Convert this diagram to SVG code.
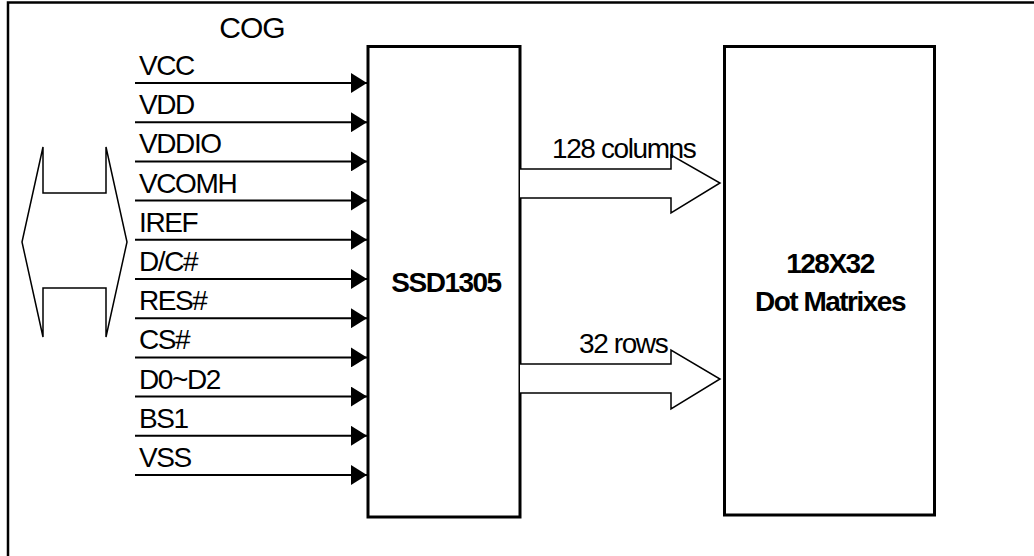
<svg xmlns="http://www.w3.org/2000/svg" width="1034" height="556" viewBox="0 0 1034 556">
<style>
.lbl{font-family:"Liberation Sans",Arial,sans-serif;font-size:28px;letter-spacing:-1.4px;fill:#000}
.bold{font-family:"Liberation Sans",Arial,sans-serif;font-size:28px;font-weight:bold;letter-spacing:-1.5px;fill:#000}
.box{fill:#fff;stroke:#000;stroke-width:3}
.sig{stroke:#000;stroke-width:2;fill:none}
.bus{fill:#fff;stroke:#000;stroke-width:1.5;stroke-linejoin:miter}
</style>
<defs>
<marker id="ah" markerUnits="userSpaceOnUse" markerWidth="16" markerHeight="20" refX="16" refY="10" orient="auto" viewBox="0 0 16 20">
<path d="M0,0 L16,10 L0,20 Z" fill="#000"/>
</marker>
</defs>
<rect width="1034" height="556" fill="#fff"/>
<path d="M8,556 V2.5 H1034" fill="none" stroke="#000" stroke-width="2.5"/>
<text class="lbl" x="252" y="38" text-anchor="middle" style="font-size:30px;letter-spacing:-1px">COG</text>
<g id="interface">
<polygon points="43,193 43,147 22,242 43,337 43,288 106,288 106,337 127,242 106,147 106,193" fill="#fff" stroke="#000" stroke-width="1.5"/>
</g>
<g id="ssd1305">
<rect class="box" x="368" y="46.5" width="152" height="470.5"/>
<text class="bold" x="446" y="292" text-anchor="middle">SSD1305</text>
</g>
<g id="matrix">
<rect class="box" x="724.5" y="46.5" width="210" height="468.5"/>
<text class="bold" x="830" y="273" text-anchor="middle">128X32</text>
<text class="bold" x="830" y="311" text-anchor="middle">Dot Matrixes</text>
</g>
<g id="connectors">
<line class="sig" x1="135" y1="83" x2="367" y2="83" marker-end="url(#ah)"/>
<line class="sig" x1="135" y1="122.2" x2="367" y2="122.2" marker-end="url(#ah)"/>
<line class="sig" x1="135" y1="161.4" x2="367" y2="161.4" marker-end="url(#ah)"/>
<line class="sig" x1="135" y1="200.6" x2="367" y2="200.6" marker-end="url(#ah)"/>
<line class="sig" x1="135" y1="239.8" x2="367" y2="239.8" marker-end="url(#ah)"/>
<line class="sig" x1="135" y1="279" x2="367" y2="279" marker-end="url(#ah)"/>
<line class="sig" x1="135" y1="318.2" x2="367" y2="318.2" marker-end="url(#ah)"/>
<line class="sig" x1="135" y1="357.4" x2="367" y2="357.4" marker-end="url(#ah)"/>
<line class="sig" x1="135" y1="396.6" x2="367" y2="396.6" marker-end="url(#ah)"/>
<line class="sig" x1="135" y1="435.8" x2="367" y2="435.8" marker-end="url(#ah)"/>
<line class="sig" x1="135" y1="475" x2="367" y2="475" marker-end="url(#ah)"/>
<path class="bus" d="M520,169 H671 V155 L720,183 L671,213 V198 H520"/>
<path class="bus" d="M520,364 H671 V350 L720,379 L671,409 V393 H520"/>
</g>
<g id="labels">
<text class="lbl" x="139" y="75">VCC</text>
<text class="lbl" x="139" y="114.2">VDD</text>
<text class="lbl" x="139" y="153.4">VDDIO</text>
<text class="lbl" x="139" y="192.6">VCOMH</text>
<text class="lbl" x="139" y="231.8">IREF</text>
<text class="lbl" x="139" y="271">D/C#</text>
<text class="lbl" x="139" y="310.2">RES#</text>
<text class="lbl" x="139" y="349.4">CS#</text>
<text class="lbl" x="139" y="388.6">D0~D2</text>
<text class="lbl" x="139" y="427.8">BS1</text>
<text class="lbl" x="139" y="467">VSS</text>
<text class="lbl" x="552" y="158">128 columns</text>
<text class="lbl" x="579" y="353">32 rows</text>
</g>
</svg>
